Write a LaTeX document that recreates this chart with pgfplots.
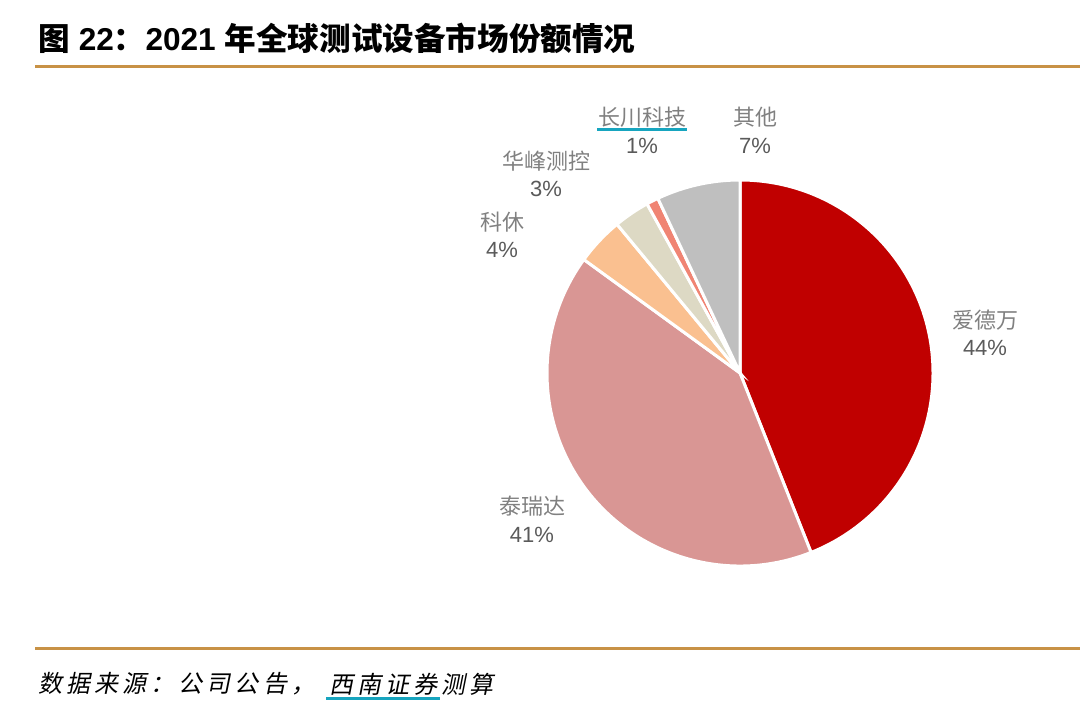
\documentclass[border=0pt]{standalone}
\usepackage{pgfplots}
\pgfplotsset{compat=1.18}
\usepackage{fontspec}
\setmainfont{Liberation Sans}
\newfontfamily\cjk{Noto Sans CJK SC}
\newfontfamily\cjkfoot{Noto Sans CJK SC}[FakeSlant=0.2, LetterSpace=17]
\definecolor{cAdv}{HTML}{C00000}
\definecolor{cTer}{HTML}{D99694}
\definecolor{cCoh}{HTML}{FAC090}
\definecolor{cHua}{HTML}{DDD9C4}
\definecolor{cChc}{HTML}{F08473}
\definecolor{cOth}{HTML}{BFBFBF}
\definecolor{gold}{HTML}{C89246}
\definecolor{teal}{HTML}{17A5BF}
\definecolor{lblname}{HTML}{808080}
\definecolor{lblpct}{HTML}{5A5A5A}
% market shares (%)
\def\sAdv{44}\def\sTer{41}\def\sCoh{4}\def\sHua{3}\def\sChc{1}\def\sOth{7}
\pgfmathsetmacro{\aA}{90}
\pgfmathsetmacro{\aB}{\aA-3.6*\sAdv}
\pgfmathsetmacro{\aC}{\aB-3.6*\sTer}
\pgfmathsetmacro{\aD}{\aC-3.6*\sCoh}
\pgfmathsetmacro{\aE}{\aD-3.6*\sHua}
\pgfmathsetmacro{\aF}{\aE-3.6*\sChc}
\pgfmathsetmacro{\aG}{\aF-3.6*\sOth}
\def\R{96.5pt}
\begin{document}
\begin{tikzpicture}
\begin{axis}[
  at={(0,0)}, anchor=south west,
  width=540pt, height=359pt, scale only axis,
  xmin=-740, xmax=340, ymin=-345, ymax=373,
  hide axis, clip=false,
]
\addplot[fill=cAdv, draw=white, line width=1.5pt, no markers] coordinates {(0,0)} -- ++(\aA:\R) arc[start angle=\aA, end angle=\aB, radius=\R] -- cycle;
\addplot[fill=cTer, draw=white, line width=1.5pt, no markers] coordinates {(0,0)} -- ++(\aB:\R) arc[start angle=\aB, end angle=\aC, radius=\R] -- cycle;
\addplot[fill=cCoh, draw=white, line width=1.5pt, no markers] coordinates {(0,0)} -- ++(\aC:\R) arc[start angle=\aC, end angle=\aD, radius=\R] -- cycle;
\addplot[fill=cHua, draw=white, line width=1.5pt, no markers] coordinates {(0,0)} -- ++(\aD:\R) arc[start angle=\aD, end angle=\aE, radius=\R] -- cycle;
\addplot[fill=cChc, draw=white, line width=1.5pt, no markers] coordinates {(0,0)} -- ++(\aE:\R) arc[start angle=\aE, end angle=\aF, radius=\R] -- cycle;
\addplot[fill=cOth, draw=white, line width=1.5pt, no markers] coordinates {(0,0)} -- ++(\aF:\R) arc[start angle=\aF, end angle=\aG, radius=\R] -- cycle;

% labels
\tikzset{nm/.style={inner sep=0pt, text=lblname, font=\cjk\fontsize{11pt}{11pt}\selectfont},
         pc/.style={inner sep=0pt, text=lblpct, font=\fontsize{11pt}{11pt}\selectfont}}
\node[nm] at (axis cs:-98,256) {长川科技};
\node[pc] at (axis cs:-98,227) {\sChc\%};
\draw[teal, line width=1.5pt] (axis cs:-143,243) -- (axis cs:-53,243);
\node[nm] at (axis cs:15,256) {其他};
\node[pc] at (axis cs:15,227) {\sOth\%};
\node[nm] at (axis cs:-194,212) {华峰测控};
\node[pc] at (axis cs:-194,184) {\sHua\%};
\node[nm] at (axis cs:-238,151) {科休};
\node[pc] at (axis cs:-238,123) {\sCoh\%};
\node[nm] at (axis cs:245,53) {爱德万};
\node[pc] at (axis cs:245,25) {\sAdv\%};
\node[nm] at (axis cs:-208,-133) {泰瑞达};
\node[pc] at (axis cs:-208,-162) {\sTer\%};

% title and rules
\node[anchor=west, inner sep=0pt, font=\fontsize{15.8pt}{15.8pt}\selectfont\bfseries] at (axis cs:-702,335)
  {{\cjk 图} 22{\cjk ：}2021 {\cjk 年全球测试设备市场份额情况}};
\draw[gold, line width=1.5pt] (axis cs:-705,306) -- (axis cs:340,306);
\draw[gold, line width=1.5pt] (axis cs:-705,-275) -- (axis cs:340,-275);
\node[anchor=west, inner sep=0pt, font=\cjkfoot\fontsize{12pt}{12pt}\selectfont] at (axis cs:-702,-311) {数据来源：公司公告，};
\node[anchor=west, inner sep=0pt, font=\cjkfoot\fontsize{12pt}{12pt}\selectfont] at (axis cs:-411,-311) {西南证券测算};
\draw[teal, line width=1.5pt] (axis cs:-414,-325) -- (axis cs:-300,-325);
\end{axis}
\pgfresetboundingbox
\useasboundingbox (0,0) rectangle (540pt,359pt);
\end{tikzpicture}
\end{document}
